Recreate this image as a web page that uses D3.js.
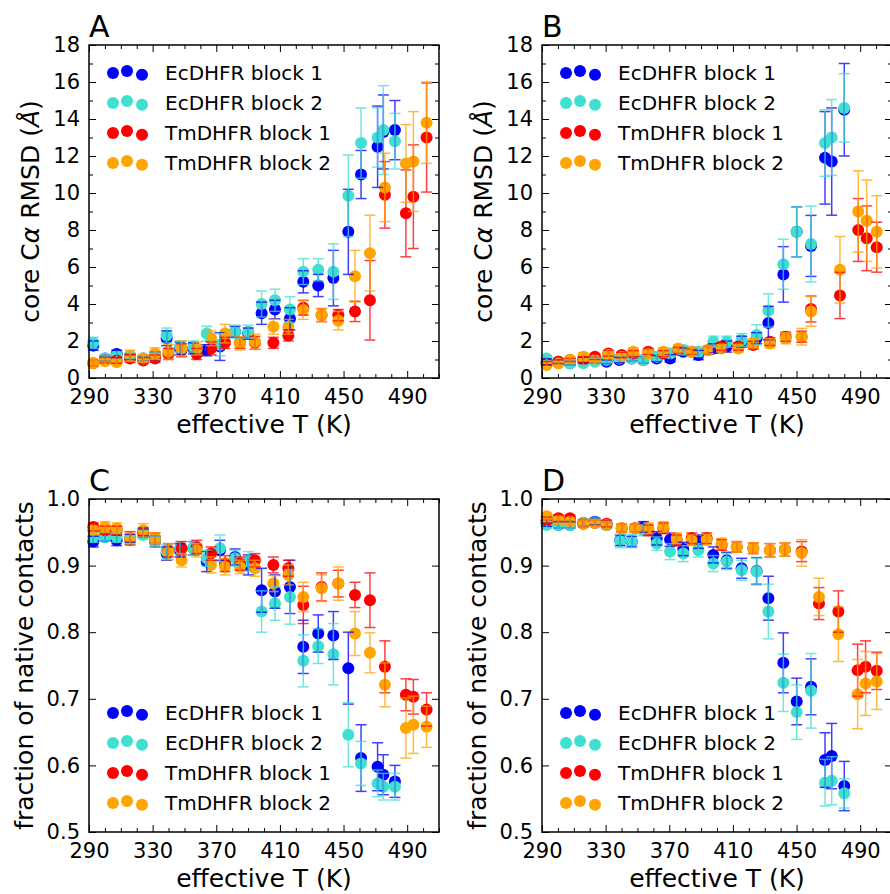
<!DOCTYPE html>
<html>
<head>
<meta charset="utf-8">
<script src="https://cdn.jsdelivr.net/npm/d3@7"></script>
<style>
body { margin: 0; background: #fff; }
svg { font-family: "DejaVu Sans", sans-serif; }
</style>
</head>
<body>
<svg id="main" width="890" height="894"></svg>
<script>
// series labels and colours
var seriesNames = ["EcDHFR block 1", "EcDHFR block 2", "TmDHFR block 1", "TmDHFR block 2"];
var seriesColors = ["#0000ff", "#40e0d0", "#ff0000", "#ffa500"];

// tick labels
var xTicks = [290, 330, 370, 410, 450, 490];
var rmsdTicks = [0, 2, 4, 6, 8, 10, 12, 14, 16, 18];
var fracTicks = [0.5, 0.6, 0.7, 0.8, 0.9, 1.0];

// effective temperatures (K)
var tA_ec = [292.7,300.1,307.4,315.8,324.1,331.5,338.8,347.2,355.6,364.0,372.3,381.8,390.1,398.5,406.9,416.3,424.7,434.1,443.6,453.0,461.0,471.4,475.0,482.3];
var tA_tm = [292.7,300.1,307.4,315.8,324.1,331.5,339.9,348.2,357.7,366.7,375.5,384.9,394.3,405.9,415.3,424.7,436.2,446.7,457.2,466.6,476.0,489.2,493.9,502.2];
var tB_ec = [292.9,300.3,307.6,316.0,323.3,330.6,338.6,346.4,353.7,362.1,370.5,378.8,388.3,397.7,406.1,415.5,424.9,432.3,441.7,450.1,459.1,467.9,472.1,480.0];
var tB_tm = [292.9,300.3,307.6,316.0,323.3,331.7,340.1,347.4,356.8,366.3,375.7,384.1,394.5,402.9,413.4,422.8,433.3,443.2,453.2,459.1,477.3,488.8,494.1,500.4];
var tC_ec = tA_ec;
var tC_tm = tA_tm;
var tD_ec = [292.9,300.3,307.6,316.0,323.3,330.6,339.2,346.4,353.7,362.1,370.5,378.8,388.3,397.7,406.1,415.5,424.9,432.3,441.7,450.1,459.1,467.9,472.1,480.0];
var tD_tm = [292.9,300.3,307.6,316.0,323.3,330.6,340.1,348.5,356.8,366.3,374.6,384.1,393.5,402.9,412.4,422.8,433.3,442.7,453.2,464.1,476.3,488.4,493.4,500.4];

// A: core RMSD, block 1 / block 2
var rmsdA_ec1 = [1.75,1.05,1.3,1.15,1.05,1.2,2.15,1.6,1.6,1.5,1.7,2.5,2.4,3.5,3.7,3.2,5.2,5.0,5.4,7.9,11.0,12.5,13.3,13.4];
var errA_ec1  = [0.25,0.15,0.2,0.15,0.15,0.2,0.4,0.35,0.3,0.3,0.75,0.3,0.3,0.6,0.5,0.6,0.6,0.6,1.5,2.3,1.3,2.2,2.0,1.6];
var rmsdA_ec2 = [1.9,1.05,1.2,1.2,1.05,1.2,2.3,1.7,1.7,2.4,1.8,2.5,2.5,4.0,4.2,3.7,5.75,5.85,5.75,9.85,12.7,13.0,13.4,12.8];
var errA_ec2  = [0.3,0.15,0.2,0.15,0.15,0.2,0.4,0.3,0.3,0.4,0.6,0.35,0.35,0.7,0.6,0.7,0.7,0.6,1.5,2.2,1.9,1.6,2.4,1.5];
var rmsdA_tm1 = [0.8,0.95,0.95,1.05,0.95,1.05,1.3,1.5,1.3,1.6,1.9,1.9,1.9,1.9,2.3,3.8,3.4,3.4,3.6,4.2,9.9,8.9,9.8,13.0];
var errA_tm1  = [0.15,0.15,0.15,0.2,0.15,0.2,0.3,0.35,0.3,0.35,0.3,0.3,0.35,0.3,0.3,0.4,0.35,0.3,0.55,2.15,1.8,2.35,2.8,2.95];
var rmsdA_tm2 = [0.8,0.9,0.85,1.2,1.05,1.33,1.42,1.6,1.6,2.15,2.4,1.87,1.96,2.77,2.77,3.67,3.4,3.1,5.5,6.75,10.3,11.6,11.7,13.8];
var errA_tm2  = [0.15,0.15,0.15,0.3,0.2,0.3,0.4,0.4,0.35,0.4,0.5,0.35,0.4,0.4,0.4,0.5,0.35,0.5,1.4,2.05,1.85,2.1,2.7,2.2];

// B: core RMSD
var rmsdB_ec1 = [0.88,0.88,0.8,0.97,0.97,0.88,0.97,1.06,0.97,1.06,1.06,1.42,1.24,1.6,1.7,1.96,2.15,2.97,5.6,7.9,7.14,11.9,11.7,14.5];
var errB_ec1  = [0.15,0.1,0.1,0.15,0.15,0.1,0.15,0.15,0.15,0.15,0.2,0.2,0.25,0.25,0.3,0.3,0.3,0.9,1.5,1.35,1.65,2.5,2.9,2.5];
var rmsdB_ec2 = [1.06,0.88,0.8,0.8,0.88,0.97,1.06,1.06,0.97,1.15,1.33,1.51,1.42,1.96,1.96,2.05,2.33,3.65,6.15,7.9,7.24,12.7,13.0,14.6];
var errB_ec2  = [0.15,0.1,0.1,0.1,0.15,0.15,0.15,0.15,0.15,0.2,0.2,0.25,0.25,0.3,0.3,0.35,0.55,0.9,1.35,1.35,2.05,1.8,2.05,1.85];
var rmsdB_tm1 = [0.79,0.88,0.97,1.0,1.15,1.33,1.24,1.33,1.42,1.33,1.51,1.42,1.51,1.7,1.7,1.78,1.96,2.23,2.23,3.73,4.46,8.0,7.55,7.07];
var errB_tm1  = [0.1,0.1,0.1,0.15,0.15,0.15,0.15,0.15,0.15,0.15,0.15,0.15,0.2,0.2,0.2,0.2,0.2,0.25,0.3,0.7,1.25,1.7,1.75,1.35];
var rmsdB_tm2 = [0.7,0.79,0.97,1.15,0.97,1.24,1.15,1.42,1.33,1.42,1.6,1.42,1.51,1.6,1.6,1.87,1.87,2.15,2.23,3.6,5.85,9.0,8.5,7.9];
var errB_tm2  = [0.1,0.1,0.15,0.2,0.15,0.2,0.15,0.2,0.2,0.2,0.2,0.2,0.2,0.2,0.2,0.25,0.25,0.3,0.45,0.8,1.8,2.2,2.2,1.95];

// C: fraction of native contacts
var fracC_ec1 = [0.936,0.943,0.938,0.941,0.949,0.936,0.918,0.923,0.926,0.906,0.923,0.913,0.901,0.863,0.861,0.868,0.778,0.798,0.795,0.746,0.611,0.598,0.586,0.576];
var errC_ec1  = [0.008,0.006,0.008,0.006,0.006,0.008,0.01,0.01,0.01,0.015,0.015,0.012,0.015,0.033,0.025,0.04,0.04,0.028,0.036,0.054,0.05,0.036,0.03,0.024];
var fracC_ec2 = [0.943,0.943,0.943,0.938,0.946,0.936,0.921,0.926,0.926,0.911,0.926,0.911,0.906,0.831,0.843,0.853,0.757,0.779,0.767,0.646,0.603,0.573,0.568,0.568];
var errC_ec2  = [0.008,0.006,0.008,0.006,0.006,0.008,0.01,0.01,0.01,0.012,0.02,0.012,0.015,0.031,0.025,0.041,0.039,0.026,0.046,0.048,0.033,0.02,0.02,0.02];
var fracC_tm1 = [0.958,0.953,0.953,0.941,0.951,0.941,0.923,0.926,0.928,0.918,0.903,0.903,0.908,0.901,0.896,0.841,0.868,0.873,0.856,0.848,0.748,0.706,0.703,0.684];
var errC_tm1  = [0.006,0.006,0.006,0.01,0.006,0.008,0.01,0.01,0.01,0.01,0.012,0.01,0.01,0.012,0.012,0.028,0.021,0.02,0.019,0.041,0.039,0.024,0.026,0.025];
var fracC_tm2 = [0.953,0.958,0.956,0.941,0.953,0.941,0.921,0.908,0.923,0.901,0.898,0.898,0.896,0.873,0.886,0.853,0.866,0.873,0.798,0.769,0.721,0.656,0.661,0.658];
var errC_tm2  = [0.006,0.008,0.008,0.008,0.01,0.008,0.012,0.01,0.01,0.012,0.012,0.01,0.012,0.012,0.015,0.022,0.02,0.025,0.033,0.03,0.033,0.045,0.043,0.031];

// D: fraction of native contacts
var fracD_ec1 = [0.964,0.961,0.961,0.964,0.966,0.961,0.938,0.936,0.958,0.941,0.939,0.925,0.936,0.916,0.908,0.896,0.892,0.851,0.754,0.696,0.718,0.608,0.614,0.569];
var errD_ec1  = [0.005,0.005,0.005,0.005,0.005,0.005,0.008,0.008,0.008,0.01,0.01,0.01,0.01,0.012,0.012,0.015,0.02,0.033,0.045,0.035,0.042,0.041,0.049,0.037];
var fracD_ec2 = [0.961,0.961,0.961,0.964,0.965,0.961,0.937,0.937,0.953,0.933,0.921,0.918,0.923,0.903,0.906,0.893,0.891,0.831,0.724,0.680,0.712,0.574,0.577,0.558];
var errD_ec2  = [0.005,0.005,0.005,0.005,0.005,0.005,0.01,0.01,0.008,0.01,0.012,0.012,0.01,0.012,0.012,0.015,0.02,0.041,0.043,0.041,0.056,0.035,0.036,0.022];
var fracD_tm1 = [0.968,0.971,0.971,0.963,0.964,0.963,0.956,0.956,0.953,0.956,0.938,0.941,0.941,0.931,0.928,0.926,0.923,0.924,0.921,0.843,0.831,0.743,0.748,0.742];
var errD_tm1  = [0.005,0.005,0.005,0.005,0.005,0.005,0.006,0.006,0.008,0.008,0.008,0.008,0.008,0.008,0.008,0.008,0.01,0.01,0.015,0.024,0.031,0.039,0.039,0.028];
var fracD_tm2 = [0.974,0.968,0.966,0.963,0.964,0.961,0.956,0.956,0.956,0.958,0.941,0.938,0.939,0.933,0.928,0.926,0.923,0.924,0.919,0.853,0.797,0.707,0.723,0.726];
var errD_tm2  = [0.005,0.005,0.005,0.005,0.005,0.005,0.006,0.006,0.008,0.008,0.008,0.008,0.008,0.008,0.008,0.008,0.01,0.01,0.02,0.028,0.041,0.052,0.048,0.042];

var width = 350, height = 333;
var svg = d3.select("#main");

function drawPanel(p) {
    var g = svg.append("g")
        .attr("transform", "translate(" + p.left + "," + p.top + ")");

    var x = d3.scaleLinear().domain([290, 510]).range([0, width]);
    var y = d3.scaleLinear().domain(p.yDomain).range([height, 0]);

    // ticks point inward on all four sides, no labels on top/right
    var xMinor = d3.range(290, 511, 10).filter(function(t) { return xTicks.indexOf(t) < 0; });
    function tickAxis(axis, vals, size, fmt) {
        return axis.tickValues(vals).tickSizeInner(-size).tickSizeOuter(0)
            .tickFormat(fmt || "");
    }
    var axes = [];
    axes.push(g.append("g").attr("transform", "translate(0," + height + ")")
        .call(tickAxis(d3.axisBottom(x), xTicks, 7, d3.format("d")).tickPadding(11)));
    axes.push(g.append("g").attr("transform", "translate(0," + height + ")")
        .call(tickAxis(d3.axisBottom(x), xMinor, 4)));
    axes.push(g.append("g").call(tickAxis(d3.axisTop(x), xTicks, 7)));
    axes.push(g.append("g").call(tickAxis(d3.axisTop(x), xMinor, 4)));
    axes.push(g.append("g")
        .call(tickAxis(d3.axisLeft(y), p.yTicks, 7, p.yFormat).tickPadding(9)));
    axes.push(g.append("g").attr("transform", "translate(" + width + ",0)")
        .call(tickAxis(d3.axisRight(y), p.yTicks, 7)));
    if (p.yMinor) {
        axes.push(g.append("g").call(tickAxis(d3.axisLeft(y), p.yMinor, 4)));
        axes.push(g.append("g").attr("transform", "translate(" + width + ",0)")
            .call(tickAxis(d3.axisRight(y), p.yMinor, 4)));
    }
    axes.forEach(function(a) {
        a.select(".domain").remove();
        a.selectAll(".tick line").attr("stroke", "#000").attr("stroke-width", 1);
        a.selectAll(".tick text").attr("font-size", 21).attr("fill", "#000")
            .attr("font-family", "DejaVu Sans");
    });

    // markers
    p.series.forEach(function(s, i) {
        var pts = s.v.map(function(v, j) { return {t: s.t[j], v: v, e: s.e[j]}; });
        g.append("g").selectAll("circle")
            .data(pts)
            .enter()
            .append("circle")
              .attr("cx", function(d) { return x(d.t); })
              .attr("cy", function(d) { return y(d.v); })
              .attr("r", 6)
              .style("fill", seriesColors[i]);
    });

    // error bars with caps, drawn on top
    p.series.forEach(function(s, i) {
        var pts = s.v.map(function(v, j) { return {t: s.t[j], v: v, e: s.e[j]}; });
        var eb = g.append("g")
            .attr("stroke", seriesColors[i])
            .attr("stroke-width", 1.5)
            .attr("opacity", 0.75);
        var bars = eb.selectAll("g").data(pts).enter().append("g");
        bars.append("line")
            .attr("x1", function(d) { return x(d.t); })
            .attr("x2", function(d) { return x(d.t); })
            .attr("y1", function(d) { return y(d.v - d.e); })
            .attr("y2", function(d) { return y(d.v + d.e); });
        [-1, 1].forEach(function(sg) {
            bars.append("line")
                .attr("x1", function(d) { return x(d.t) - 5.5; })
                .attr("x2", function(d) { return x(d.t) + 5.5; })
                .attr("y1", function(d) { return y(d.v + sg * d.e); })
                .attr("y2", function(d) { return y(d.v + sg * d.e); });
        });
    });

    // frame
    g.append("rect")
        .attr("width", width).attr("height", height)
        .attr("fill", "none").attr("stroke", "#000").attr("stroke-width", 1.5);

    // legend: three dots per entry, no frame
    var dots = [[24, 0], [38, -2], [53, 1.7]];
    seriesNames.forEach(function(name, i) {
        var cy = p.legendTop + i * 30;
        dots.forEach(function(dd) {
            g.append("circle").attr("cx", dd[0]).attr("cy", cy + dd[1]).attr("r", 6)
                .style("fill", seriesColors[i]);
        });
        g.append("text").attr("x", 76).attr("y", cy)
            .attr("dy", "0.36em").attr("font-size", 20).text(name);
    });

    // axis labels
    g.append("text")
        .attr("x", width / 2).attr("y", height + 55)
        .style("text-anchor", "middle").attr("font-size", 25)
        .text("effective T (K)");
    var yl = g.append("text")
        .attr("transform", "translate(" + p.yLabelX + "," + (height / 2) + ") rotate(-90)")
        .style("text-anchor", "middle").attr("font-size", 25);
    p.yLabel.forEach(function(part) {
        yl.append("tspan").style("font-style", part[1] ? "italic" : "normal").text(part[0]);
    });

    // panel letter
    g.append("text").attr("x", 0).attr("y", -8)
        .attr("font-size", 30).text(p.letter);
}

var rmsdLabel = [["core C", false], ["\u03b1", true], [" RMSD (", false], ["\u00c5", true], [")", false]];
var fracLabel = [["fraction of native contacts", false]];

drawPanel({
    letter: "A", left: 89, top: 45, yDomain: [0, 18], yTicks: rmsdTicks,
    yMinor: d3.range(1, 18, 2), yFormat: d3.format("d"), yLabel: rmsdLabel, yLabelX: -50,
    legendTop: 28,
    series: [
        {t: tA_ec, v: rmsdA_ec1, e: errA_ec1},
        {t: tA_ec, v: rmsdA_ec2, e: errA_ec2},
        {t: tA_tm, v: rmsdA_tm1, e: errA_tm1},
        {t: tA_tm, v: rmsdA_tm2, e: errA_tm2}
    ]
});
drawPanel({
    letter: "B", left: 542, top: 45, yDomain: [0, 18], yTicks: rmsdTicks,
    yMinor: d3.range(1, 18, 2), yFormat: d3.format("d"), yLabel: rmsdLabel, yLabelX: -50,
    legendTop: 28,
    series: [
        {t: tB_ec, v: rmsdB_ec1, e: errB_ec1},
        {t: tB_ec, v: rmsdB_ec2, e: errB_ec2},
        {t: tB_tm, v: rmsdB_tm1, e: errB_tm1},
        {t: tB_tm, v: rmsdB_tm2, e: errB_tm2}
    ]
});
drawPanel({
    letter: "C", left: 89, top: 499, yDomain: [0.5, 1.0], yTicks: fracTicks,
    yMinor: null, yFormat: d3.format(".1f"), yLabel: fracLabel, yLabelX: -56,
    legendTop: 214,
    series: [
        {t: tC_ec, v: fracC_ec1, e: errC_ec1},
        {t: tC_ec, v: fracC_ec2, e: errC_ec2},
        {t: tC_tm, v: fracC_tm1, e: errC_tm1},
        {t: tC_tm, v: fracC_tm2, e: errC_tm2}
    ]
});
drawPanel({
    letter: "D", left: 542, top: 499, yDomain: [0.5, 1.0], yTicks: fracTicks,
    yMinor: null, yFormat: d3.format(".1f"), yLabel: fracLabel, yLabelX: -56,
    legendTop: 214,
    series: [
        {t: tD_ec, v: fracD_ec1, e: errD_ec1},
        {t: tD_ec, v: fracD_ec2, e: errD_ec2},
        {t: tD_tm, v: fracD_tm1, e: errD_tm1},
        {t: tD_tm, v: fracD_tm2, e: errD_tm2}
    ]
});
</script>
</body>
</html>
